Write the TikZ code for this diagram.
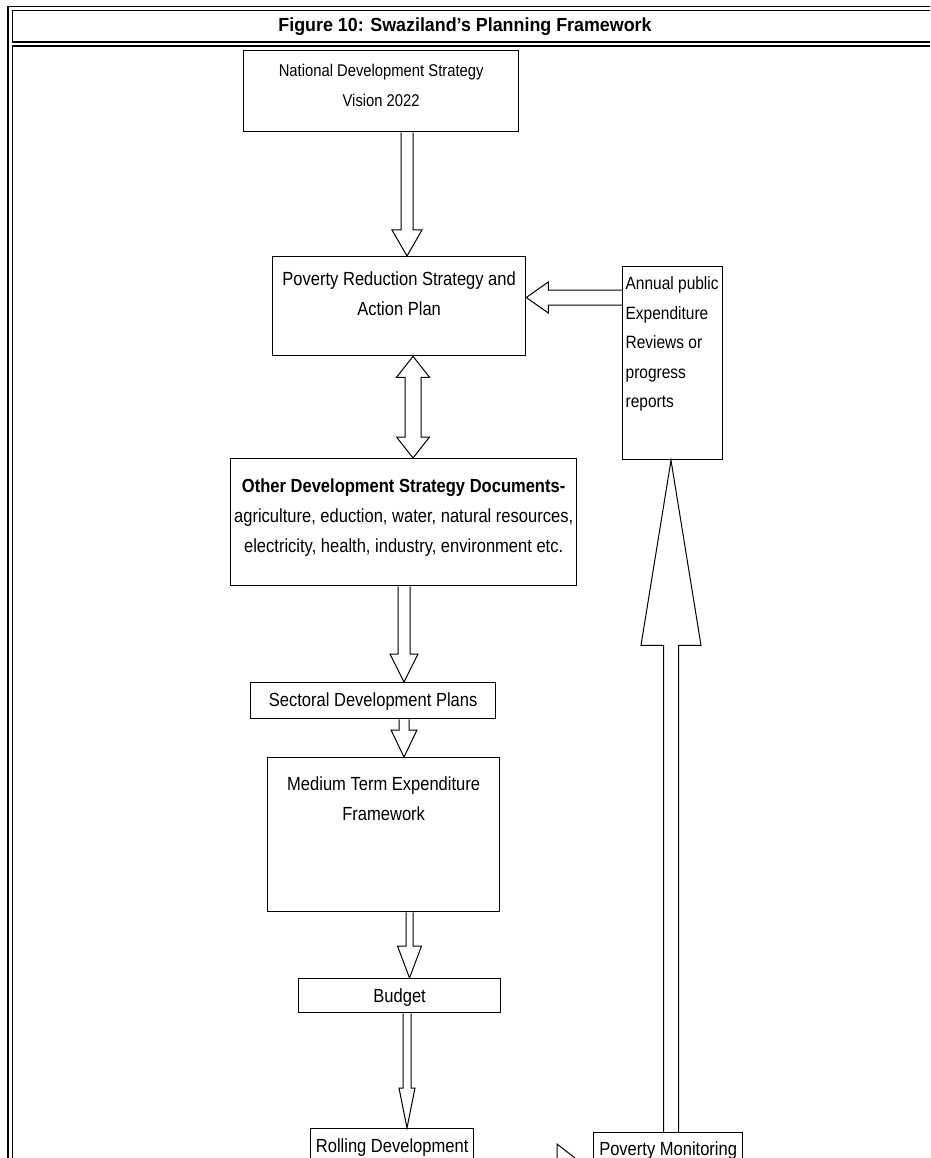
\documentclass[tikz,border=0pt]{standalone}
\usepackage{fontspec}
\setmainfont{Liberation Sans}[FakeStretch=0.87]
\newfontfamily\titlefont{Liberation Sans}[FakeStretch=0.94]
\usetikzlibrary{calc}
\newcommand{\bt}[5]{\parbox[c][#2pt][t]{#1pt}{#5\rule{0pt}{#3pt}#4}}
\newcommand{\hdown}[6]{\draw[harrow] let \p1=(#1.south), \p2=(#2.north) in
 (#3pt-#4pt,\y1) -- (#3pt-#4pt,\y2+#6pt) -- (#3pt-#5pt,\y2+#6pt) -- (#3pt,\y2) -- (#3pt+#5pt,\y2+#6pt) -- (#3pt+#4pt,\y2+#6pt) -- (#3pt+#4pt,\y1);}
\newcommand{\hup}[6]{\draw[harrow] let \p1=(#1.north), \p2=(#2.south) in
 (#3pt-#4pt,\y1) -- (#3pt-#4pt,\y2-#6pt) -- (#3pt-#5pt,\y2-#6pt) -- (#3pt,\y2) -- (#3pt+#5pt,\y2-#6pt) -- (#3pt+#4pt,\y2-#6pt) -- (#3pt+#4pt,\y1);}
\newcommand{\hleft}[6]{\draw[harrow] let \p1=(#1.west), \p2=(#2.east) in
 (\x1,-#3pt+#4pt) -- (\x2+#6pt,-#3pt+#4pt) -- (\x2+#6pt,-#3pt+#5pt) -- (\x2,-#3pt) -- (\x2+#6pt,-#3pt-#5pt) -- (\x2+#6pt,-#3pt-#4pt) -- (\x1,-#3pt-#4pt);}
\newcommand{\hright}[6]{\draw[harrow] let \p1=(#1.east), \p2=(#2.west) in
 (\x1,-#3pt+#4pt) -- (\x2-#6pt,-#3pt+#4pt) -- (\x2-#6pt,-#3pt+#5pt) -- (\x2,-#3pt) -- (\x2-#6pt,-#3pt-#5pt) -- (\x2-#6pt,-#3pt-#4pt) -- (\x1,-#3pt-#4pt);}
\newcommand{\hboth}[6]{\draw[harrow] let \p1=(#1.south), \p2=(#2.north) in
 (#3pt,\y1) -- (#3pt+#5pt,\y1-#6pt) -- (#3pt+#4pt,\y1-#6pt) -- (#3pt+#4pt,\y2+#6pt) -- (#3pt+#5pt,\y2+#6pt) -- (#3pt,\y2) -- (#3pt-#5pt,\y2+#6pt) -- (#3pt-#4pt,\y2+#6pt) -- (#3pt-#4pt,\y1-#6pt) -- (#3pt-#5pt,\y1-#6pt) -- cycle;}
\begin{document}
\begin{tikzpicture}[x=1pt,y=-1pt,
  box/.style={draw=black,line width=1.3pt,inner sep=0pt,anchor=north west,font=\fontsize{19}{30}\selectfont},
  harrow/.style={draw=black,line width=1pt,line join=miter},
  fouter/.style={draw=black,line width=1.6pt},
  finner/.style={draw=black,line width=1.1pt}]
\useasboundingbox (0,0) rectangle (930,1158);
\clip (0,0) rectangle (930,1158);
% frame
\draw[fouter] (8,1170) -- (8,6.5) -- (940,6.5);
\draw[finner] (940,10.5) -- (12.5,10.5) -- (12.5,42) -- (940,42);
\draw[finner] (940,46) -- (12.5,46) -- (12.5,1170);
\node[font=\titlefont\bfseries\fontsize{19}{22}\selectfont] (title) at (465,26.5) {Figure 10: Swaziland’s Planning Framework};
% boxes
\node[box,font=\fontsize{17}{30}\selectfont] (b1) at (243,50) {\bt{275}{81}{26}{National Development Strategy\\Vision 2022}{\centering}};
\node[box] (b2) at (272,256) {\bt{253}{99}{29}{Poverty Reduction Strategy and\\Action Plan}{\centering}};
\node[box,font=\fontsize{17.8}{29.5}\selectfont] (an) at (622,266) {\bt{100}{193}{23}{\mbox{Annual public}\\Expenditure\\Reviews or\\progress\\reports}{\raggedright\leftskip=3pt}};
\node[box] (b3) at (230,458) {\bt{346}{127}{34}{\textbf{Other Development Strategy Documents-}\\agriculture, eduction, water, natural resources,\\electricity, health, industry, environment etc.}{\centering}};
\node[box] (b4) at (250,682) {\bt{245}{36}{24}{Sectoral Development Plans}{\centering}};
\node[box] (b5) at (267,757) {\bt{232}{154}{33}{Medium Term Expenditure\\Framework}{\centering}};
\node[box] (b6) at (298,978) {\bt{202}{34}{24}{Budget}{\centering}};
\node[box] (rd) at (310,1128) {\bt{163}{70}{24}{Rolling Development}{\centering}};
\node[box] (pm) at (593,1132) {\bt{149}{70}{23}{Poverty Monitoring}{\centering}};
% arrows
\hdown{b1}{b2}{407}{6}{15}{26}
\hleft{an}{b2}{297.5}{7.5}{15.5}{22}
\hboth{b2}{b3}{413}{8}{16.5}{21}
\hdown{b3}{b4}{404}{6}{14}{28}
\hdown{b4}{b5}{404}{5}{13}{27}
\hdown{b5}{b6}{409.5}{3.5}{12}{32}
\hdown{b6}{rd}{407}{4}{8}{40}
\hup{pm}{an}{671}{7.5}{30}{185}
\hright{rd}{pm}{1172}{8}{28}{36}
\end{tikzpicture}
\end{document}
